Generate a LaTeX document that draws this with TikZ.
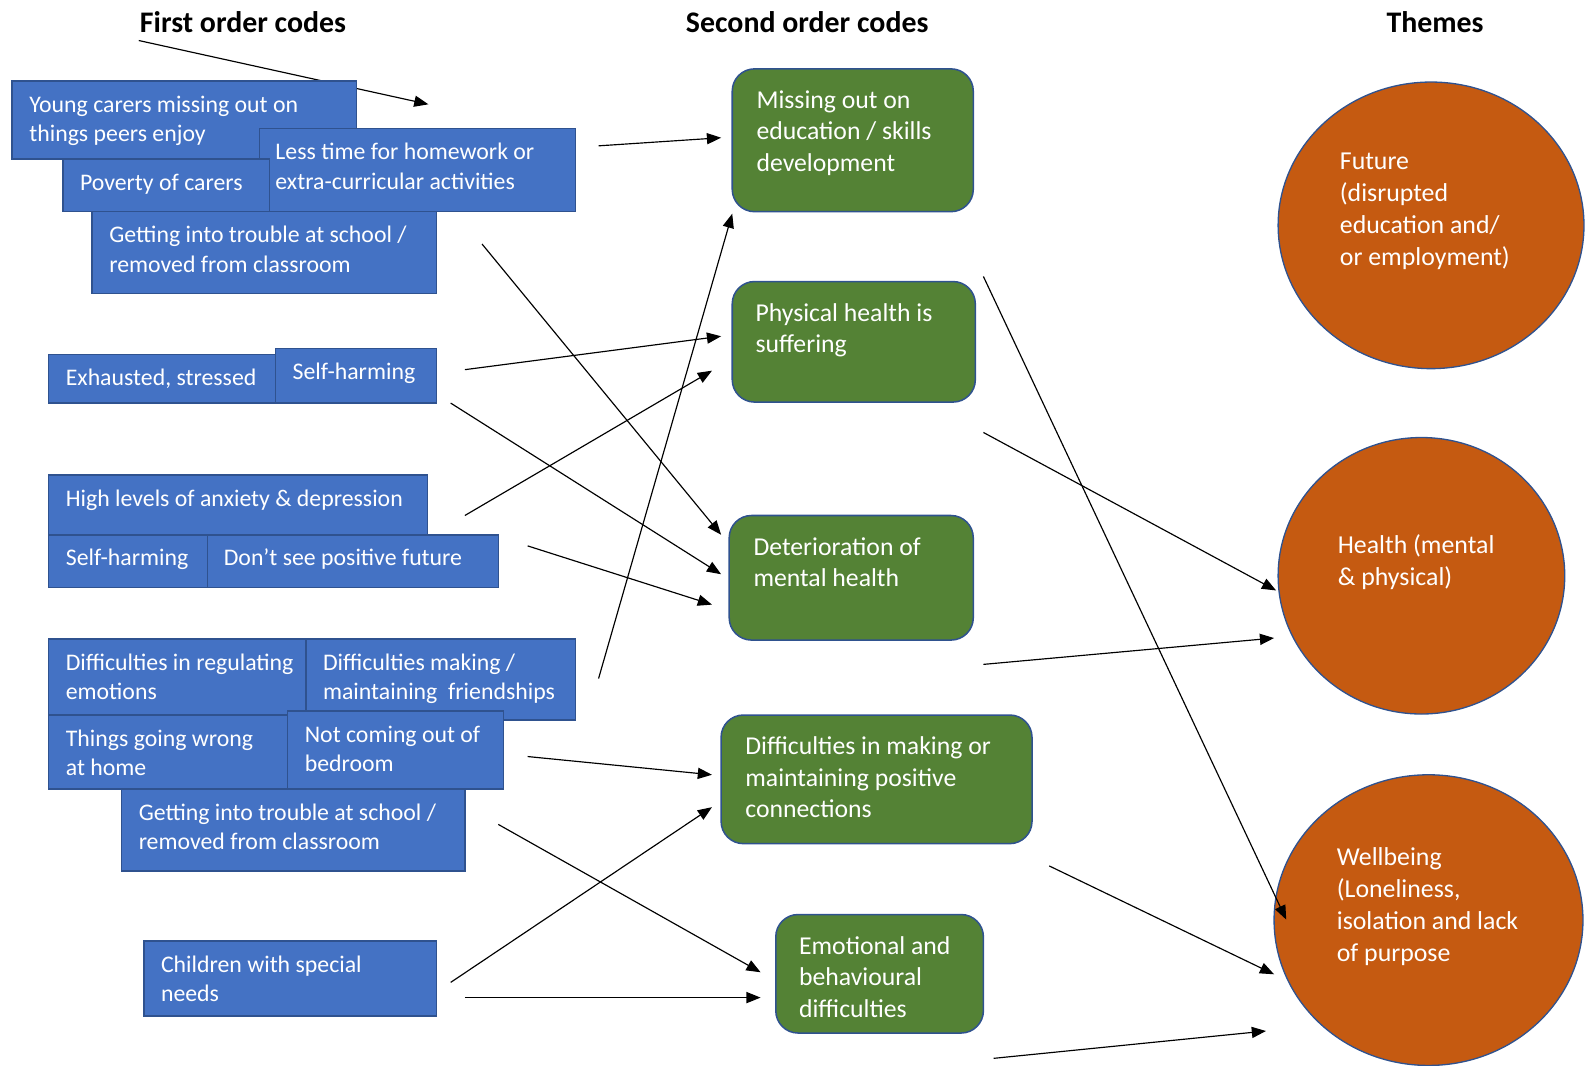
\documentclass[tikz,border=0pt]{standalone}
\usepackage{fontspec}
\setmainfont{Carlito}
\usetikzlibrary{shapes.geometric,arrows.meta}
\definecolor{boxblue}{HTML}{4472C4}
\definecolor{edgeblue}{HTML}{2F528F}
\definecolor{codegreen}{HTML}{548235}
\definecolor{themeorange}{HTML}{C55A11}
\newcommand\bfnt{\fontsize{23.5}{29}\selectfont}
\newcommand\gfnt{\fontsize{25.4}{31}\selectfont}
\newcommand\ofnt{\fontsize{25.5}{31.5}\selectfont}
\tikzset{
  firstbox/.style={draw=edgeblue, fill=boxblue, line width=1.5pt, text=white, font=\bfnt, rectangle, anchor=north west, outer sep=0pt},
  secondbox/.style={draw=edgeblue, fill=codegreen, line width=1.5pt, text=white, font=\gfnt, rectangle, rounded corners=22pt, anchor=north west, outer sep=0pt},
  themeoval/.style={draw=edgeblue, fill=themeorange, line width=1.3pt, text=white, font=\ofnt, ellipse, inner sep=0pt},
  coltitle/.style={font=\fontsize{29.5}{34}\selectfont\bfseries, text=black, inner sep=0pt},
  link/.style={draw=black, line width=1.15pt, -{Triangle[length=14pt,width=11pt]}},
}
% style, name, x, y, w, h, xpad, ypad, text
\newcommand\codebox[9]{\node[#1, inner xsep=#7pt, inner ysep=#8pt] (#2) at (#3,#4)
  {\parbox[t][\dimexpr #6pt-#8pt-#8pt\relax][t]{\dimexpr #5pt-#7pt-#7pt\relax}{\noindent\strut #9}};}
% name, cx, cy, w, h, textw, texth, text
\newcommand\themebox[8]{\node[themeoval, minimum width=#4pt, minimum height=#5pt] (#1) at (#2,#3)
  {\parbox[t][#7pt][t]{#6pt}{\noindent\strut #8}};}
\begin{document}
\begin{tikzpicture}[x=1pt,y=-1pt]
\useasboundingbox (0,0) rectangle (1566,1052);

% column titles
\node[coltitle] (t1) at (240,22) {First order codes};
\node[coltitle] (t2) at (797,22) {Second order codes};
\node[coltitle] (t3) at (1417,22) {Themes};

% arrow under the first boxes
\coordinate (s1) at (137,40); \coordinate (e1) at (423,103);
\draw[link] (s1) -- (e1);

% first order codes
\codebox{firstbox}{yc}{12}{80}{340}{77}{17}{10.5}{\mbox{Young carers missing out on}\\\mbox{things peers enjoy}}
\codebox{firstbox}{lt}{256}{127}{312}{82}{16}{10.5}{\mbox{Less time for homework or}\\\mbox{extra-curricular activities}}
\codebox{firstbox}{pc}{62}{157}{204}{52}{17}{10.5}{\mbox{Poverty of carers}}
\codebox{firstbox}{gt1}{91}{209}{340}{81}{17}{10.5}{\mbox{Getting into trouble at school /}\\\mbox{removed from classroom}}
\codebox{firstbox}{es}{48}{350}{224}{48}{17}{10.5}{\mbox{Exhausted, stressed}}
\codebox{firstbox}{sh1}{272}{344}{159}{54}{17}{10.5}{\mbox{Self-harming}}
\codebox{firstbox}{hl}{48}{469}{374}{59}{17}{10.5}{\mbox{High levels of anxiety \& depression}}
\codebox{firstbox}{sh2}{48}{528}{157}{52}{17}{10.5}{\mbox{Self-harming}}
\codebox{firstbox}{ds}{205}{528}{287}{52}{16}{10.5}{\mbox{Don{\char"0027}t see positive future}}
\codebox{firstbox}{dr}{48}{631}{254}{75}{17}{10.5}{\mbox{Difficulties in regulating}\\\mbox{emotions}}
\codebox{firstbox}{dm}{302}{631}{266}{80}{17}{10.5}{\mbox{Difficulties making /}\\\mbox{maintaining\ \ friendships}}
\codebox{firstbox}{tg}{48}{706}{239}{73}{17}{10.5}{\mbox{Things going wrong}\\\mbox{at home}}
\codebox{firstbox}{nc}{284}{702}{213}{77}{17}{10.5}{\mbox{Not coming out of}\\\mbox{bedroom}}
\codebox{firstbox}{gt2}{120}{779}{339}{81}{17}{10.5}{\mbox{Getting into trouble at school /}\\\mbox{removed from classroom}}
\codebox{firstbox}{cs}{142}{929}{289}{74}{17}{10.5}{\mbox{Children with special}\\\mbox{needs}}

% second order codes
\codebox{secondbox}{g1}{723}{68}{238}{141}{24}{17.5}{\mbox{Missing out on}\\\mbox{education / skills}\\\mbox{development}}
\codebox{secondbox}{g2}{723}{278}{240}{119}{23}{17.5}{\mbox{Physical health is}\\\mbox{suffering}}
\codebox{secondbox}{g3}{720}{509}{241}{123}{24}{17.5}{\mbox{Deterioration of}\\\mbox{mental health}}
\codebox{secondbox}{g4}{712}{706}{307}{127}{24}{17.5}{\mbox{Difficulties in making or}\\\mbox{maintaining positive}\\\mbox{connections}}
\codebox{secondbox}{g5}{766}{903}{205}{117}{23}{17.5}{\mbox{Emotional and}\\\mbox{behavioural}\\\mbox{difficulties}}

% themes
\themebox{o1}{1413}{222.5}{302}{283}{180}{153.9}{\mbox{Future}\\\mbox{(disrupted}\\\mbox{education and/}\\\mbox{or employment)}}
\themebox{o2}{1403.5}{568.5}{283}{273}{165}{87.9}{\mbox{Health (mental}\\\mbox{\& physical)}}
\themebox{o3}{1410.5}{908.5}{305}{287}{181}{151.9}{\mbox{Wellbeing}\\\mbox{(Loneliness,}\\\mbox{isolation and lack}\\\mbox{of purpose}}

% connectors
\coordinate (s2) at (591,144);  \coordinate (e2) at (712,136);
\coordinate (s3) at (476,241);  \coordinate (e3) at (712,528);
\coordinate (s4) at (459,365);  \coordinate (e4) at (712,332);
\coordinate (s5) at (445,398);  \coordinate (e5) at (712,567);
\coordinate (s6) at (459,509);  \coordinate (e6) at (703,366);
\coordinate (s7) at (521,539);  \coordinate (e7) at (703,597);
\coordinate (s8) at (591,670);  \coordinate (e8) at (723,211);
\coordinate (s9) at (521,747);  \coordinate (e9) at (703,765);
\coordinate (s10) at (492,814); \coordinate (e10) at (751,960);
\coordinate (s11) at (445,970); \coordinate (e11) at (703,797);
\coordinate (s12) at (459,985); \coordinate (e12) at (751,985);
\coordinate (s13) at (971,273); \coordinate (e13) at (1270,908);
\coordinate (s14) at (971,427); \coordinate (e14) at (1260,583);
\coordinate (s15) at (971,656); \coordinate (e15) at (1258,630);
\coordinate (s16) at (1036,855); \coordinate (e16) at (1258,962);
\coordinate (s17) at (981,1045); \coordinate (e17) at (1250,1018);
\foreach \i in {2,...,17} {\draw[link] (s\i) -- (e\i);}
\end{tikzpicture}
\end{document}
